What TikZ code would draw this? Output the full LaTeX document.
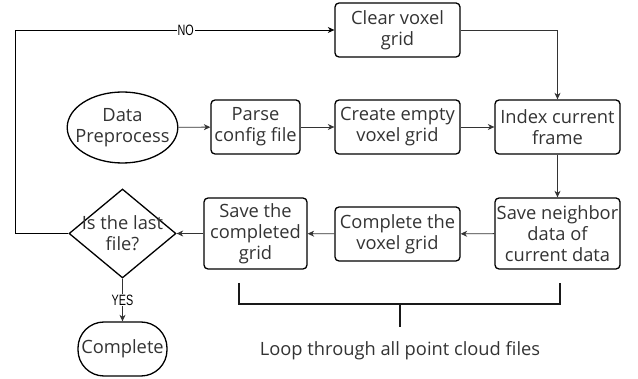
\documentclass[tikz,border=0pt]{standalone}
\usepackage{fontspec}
\setmainfont{Open Sans}
\newfontfamily\labelfont{Liberation Sans}
\usetikzlibrary{shapes,shapes.geometric,arrows.meta}
\newcommand{\narrowlabel}[1]{\scalebox{0.72}[1]{#1}}

\begin{document}
\begin{tikzpicture}[x=1pt,y=-1pt,
	boxtext/.style={align=center,text=black!80,font=\fontsize{18.3}{21}\selectfont},
	procbox/.style={boxtext,draw,line width=1.3pt,rounded corners=4pt,inner sep=0pt,minimum height=54pt,minimum width=125pt},
	startnode/.style={boxtext,draw,line width=1.3pt,ellipse,inner xsep=-8pt,inner ysep=0pt,minimum width=107pt,minimum height=71pt},
	endnode/.style={boxtext,draw,line width=1.3pt,rounded corners=26pt,inner sep=0pt,minimum width=89pt,minimum height=54pt},
	decision/.style={boxtext,draw,line width=1.3pt,diamond,aspect=1.2,inner sep=-9pt,minimum width=107pt,minimum height=89pt},
	flow/.style={draw=black!80,line width=0.9pt,-{Stealth[length=6.5pt,width=6pt,inset=2pt]}},
	yesno/.style={fill=white,inner sep=1pt,text=black,font=\labelfont\fontsize{15}{17}\selectfont},
	brace/.style={line width=1.4pt,black!90}]

	%Fix the size of the picture
	\useasboundingbox (0,0) rectangle (638,379);

	%Top row
	\node[procbox] (clear) at (397.5,30) {Clear voxel\\grid};

	%Middle row
	\node[startnode] (pre) at (122.5,127.5) {Data\\Preprocess};
	\node[procbox,minimum width=89pt] (parse) at (255.5,127) {Parse\\config file};
	\node[procbox] (create) at (397.5,127) {Create empty\\voxel grid};
	\node[procbox] (index) at (557.5,127) {Index current\\frame};

	%Bottom row
	\node[decision] (last) at (122.5,233.5) {Is the last\\file?};
	\node[procbox,minimum width=103pt,minimum height=71pt] (saved) at (255.5,233.5) {Save the\\completed\\grid};
	\node[procbox] (fill) at (397.5,234) {Complete the\\voxel grid};
	\node[procbox,minimum height=71pt] (neighbor) at (557.5,233.5) {Save neighbor\\data of\\current data};

	%End
	\node[endnode] (done) at (122.5,349) {Complete};

	%Connectors
	\draw[flow] (pre) -- (parse);
	\draw[flow] (parse) -- (create);
	\draw[flow] (create) -- (index);
	\draw[flow] (clear.east) -| (index.north);
	\draw[flow] (index) -- (neighbor);
	\draw[flow] (neighbor) -- (fill);
	\draw[flow] (fill) -- (saved);
	\draw[flow] (saved) -- (last);
	\draw[flow] (last) -- node[yesno] {\narrowlabel{YES}} (done);
	\draw[flow,draw=black] (last.west) -- ++(-53,0) |- node[yesno,pos=0.767] {\narrowlabel{NO}} (clear.west);

	%Bracket under the loop
	\coordinate (bl) at (239,283);
	\coordinate (br) at (560,283);
	\coordinate (bt) at (400,304);
	\draw[brace] (bl) |- (bt) -| (br);
	\draw[brace] (bt) -- ++(0,23);
	\node[boxtext] (loop) at (400,351) {Loop through all point cloud files};

\end{tikzpicture}
\end{document}
